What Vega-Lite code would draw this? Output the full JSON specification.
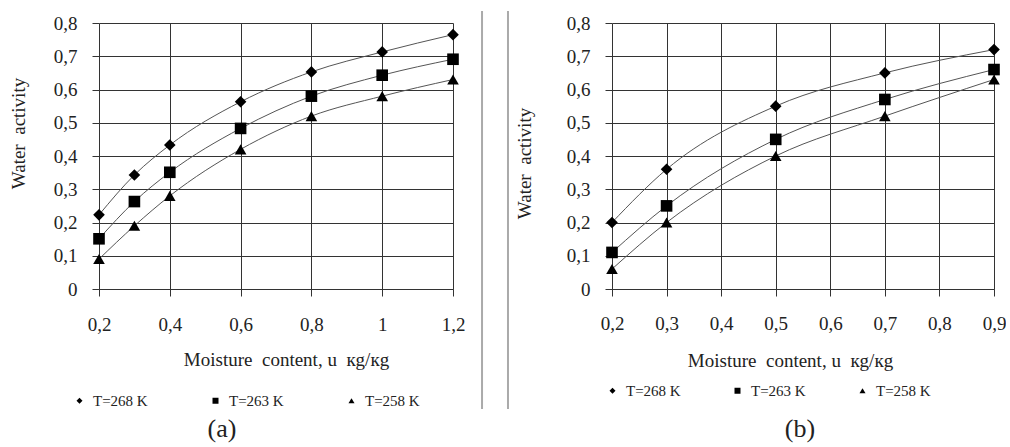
{
  "$schema": "https://vega.github.io/schema/vega-lite/v6.json",
  "padding": {"left": 9, "top": 10, "right": 0, "bottom": 0},
  "background": "white",
  "config": {
    "view": {"stroke": null},
    "font": "Liberation Serif",
    "axis": {"labelFont": "Liberation Serif", "titleFont": "Liberation Serif"},
    "legend": {
      "title": null, "symbolSize": 36, "symbolFillColor": "#000", "symbolStrokeColor": "#000", "symbolStrokeWidth": 0,
      "labelFont": "Liberation Serif", "labelFontSize": 15, "labelColor": "#222", "labelOffset": 6,
      "gridAlign": "all", "padding": 0
    }
  },
  "datasets": {
    "a": [
      {"series": "T=268 K", "x": 0.2, "y": 0.223}, {"series": "T=268 K", "x": 0.3, "y": 0.343}, {"series": "T=268 K", "x": 0.4, "y": 0.433}, {"series": "T=268 K", "x": 0.6, "y": 0.563}, {"series": "T=268 K", "x": 0.8, "y": 0.653}, {"series": "T=268 K", "x": 1.0, "y": 0.713}, {"series": "T=268 K", "x": 1.2, "y": 0.765},
      {"series": "T=263 K", "x": 0.2, "y": 0.151}, {"series": "T=263 K", "x": 0.3, "y": 0.263}, {"series": "T=263 K", "x": 0.4, "y": 0.351}, {"series": "T=263 K", "x": 0.6, "y": 0.483}, {"series": "T=263 K", "x": 0.8, "y": 0.58}, {"series": "T=263 K", "x": 1.0, "y": 0.643}, {"series": "T=263 K", "x": 1.2, "y": 0.691},
      {"series": "T=258 K", "x": 0.2, "y": 0.09}, {"series": "T=258 K", "x": 0.3, "y": 0.19}, {"series": "T=258 K", "x": 0.4, "y": 0.28}, {"series": "T=258 K", "x": 0.6, "y": 0.42}, {"series": "T=258 K", "x": 0.8, "y": 0.52}, {"series": "T=258 K", "x": 1.0, "y": 0.58}, {"series": "T=258 K", "x": 1.2, "y": 0.63}
    ],
    "b": [
      {"series": "T=268 K", "x": 0.2, "y": 0.2}, {"series": "T=268 K", "x": 0.3, "y": 0.36}, {"series": "T=268 K", "x": 0.5, "y": 0.55}, {"series": "T=268 K", "x": 0.7, "y": 0.65}, {"series": "T=268 K", "x": 0.9, "y": 0.72},
      {"series": "T=263 K", "x": 0.2, "y": 0.11}, {"series": "T=263 K", "x": 0.3, "y": 0.25}, {"series": "T=263 K", "x": 0.5, "y": 0.45}, {"series": "T=263 K", "x": 0.7, "y": 0.57}, {"series": "T=263 K", "x": 0.9, "y": 0.66},
      {"series": "T=258 K", "x": 0.2, "y": 0.06}, {"series": "T=258 K", "x": 0.3, "y": 0.2}, {"series": "T=258 K", "x": 0.5, "y": 0.4}, {"series": "T=258 K", "x": 0.7, "y": 0.52}, {"series": "T=258 K", "x": 0.9, "y": 0.63}
    ],
    "sepA": [{"x": 1.282, "y": 0.836, "y2": -0.361}],
    "sepB": [{"x": 0.0094, "y": 0.836, "y2": -0.361}]
  },
  "spacing": 22,
  "resolve": {
    "scale": {"x": "independent", "y": "independent", "shape": "independent"},
    "legend": {"shape": "independent"}
  },
  "hconcat": [
    {
      "width": 354,
      "height": 266,
      "title": {"text": "(a)", "orient": "bottom", "anchor": "middle", "frame": "group", "dx": -54, "offset": 6, "fontSize": 26, "font": "Liberation Serif", "fontWeight": "normal", "color": "#222"},
      "encoding": {
        "x": {
          "field": "x", "type": "quantitative",
          "scale": {"domain": [0.2, 1.2], "nice": false, "zero": false},
          "axis": {
            "values": [0.2, 0.4, 0.6, 0.8, 1, 1.2],
            "title": "Moisture\u00a0 content, u\u00a0 кg/кg",
            "labelExpr": "replace(format(datum.value, '.1~f'), '.', ',')",
            "grid": true, "gridColor": "#333", "gridOpacity": 1, "gridWidth": 1,
            "domainColor": "#333", "tickColor": "#333", "tickSize": 7,
            "labelPadding": 19, "labelFont": "Liberation Serif", "labelFontSize": 19, "labelColor": "#222",
            "labelFlush": false, "labelOverlap": false,
            "titleFont": "Liberation Serif", "titleFontSize": 19, "titleFontWeight": "normal", "titleColor": "#222",
            "titleX": 187, "titleY": 76, "titleBaseline": "alphabetic", "titleAlign": "center"
          }
        },
        "y": {
          "field": "y", "type": "quantitative",
          "scale": {"domain": [0, 0.8], "nice": false, "zero": false},
          "axis": {
            "values": [0, 0.1, 0.2, 0.3, 0.4, 0.5, 0.6, 0.7, 0.8],
            "title": "Water\u00a0 activity",
            "labelExpr": "replace(format(datum.value, '.1~f'), '.', ',')",
            "grid": true, "gridColor": "#333", "gridOpacity": 1, "gridWidth": 1,
            "domain": false, "tickColor": "#333", "tickSize": 7,
            "labelPadding": 15, "labelFont": "Liberation Serif", "labelFontSize": 19, "labelColor": "#222",
            "labelFlush": false, "labelOverlap": false,
            "titleFont": "Liberation Serif", "titleFontSize": 19, "titleFontWeight": "normal", "titleColor": "#222",
            "titleX": -75, "titleY": 110, "titleBaseline": "alphabetic", "titleAlign": "center", "titleAngle": 270
          }
        }
      },
      "layer": [
        {
          "data": {"name": "sepA"},
          "mark": {"type": "rule", "color": "#aaa", "strokeWidth": 2},
          "encoding": {"y2": {"field": "y2"}}
        },
        {
          "data": {"name": "a"},
          "mark": {"type": "line", "interpolate": "monotone", "color": "#555", "strokeWidth": 1},
          "encoding": {"detail": {"field": "series"}}
        },
        {
          "data": {"name": "a"},
          "mark": {"type": "point", "filled": true, "color": "#000", "opacity": 1, "size": 135},
          "encoding": {
            "shape": {
              "field": "series", "type": "nominal",
              "scale": {"domain": ["T=268 K", "T=263 K", "T=258 K"], "range": ["diamond", "square", "triangle-up"]},
              "legend": {
                "orient": "none", "legendX": -27, "legendY": 370, "direction": "horizontal", "columns": 3,
                "columnPadding": 60
              }
            }
          }
        }
      ]
    },
    {
      "width": 382,
      "height": 266,
      "title": {"text": "(b)", "orient": "bottom", "anchor": "middle", "frame": "group", "dx": -3, "offset": 6, "fontSize": 26, "font": "Liberation Serif", "fontWeight": "normal", "color": "#222"},
      "encoding": {
        "x": {
          "field": "x", "type": "quantitative",
          "scale": {"domain": [0.2, 0.9], "nice": false, "zero": false},
          "axis": {
            "values": [0.2, 0.3, 0.4, 0.5, 0.6, 0.7, 0.8, 0.9],
            "title": "Moisture\u00a0 content, u\u00a0 кg/кg",
            "labelExpr": "replace(format(datum.value, '.1~f'), '.', ',')",
            "grid": true, "gridColor": "#333", "gridOpacity": 1, "gridWidth": 1,
            "domainColor": "#333", "tickColor": "#333", "tickSize": 7,
            "labelPadding": 18, "labelFont": "Liberation Serif", "labelFontSize": 19, "labelColor": "#222",
            "labelFlush": false, "labelOverlap": false,
            "titleFont": "Liberation Serif", "titleFontSize": 19, "titleFontWeight": "normal", "titleColor": "#222",
            "titleX": 178, "titleY": 77, "titleBaseline": "alphabetic", "titleAlign": "center"
          }
        },
        "y": {
          "field": "y", "type": "quantitative",
          "scale": {"domain": [0, 0.8], "nice": false, "zero": false},
          "axis": {
            "values": [0, 0.1, 0.2, 0.3, 0.4, 0.5, 0.6, 0.7, 0.8],
            "title": "Water\u00a0 activity",
            "labelExpr": "replace(format(datum.value, '.1~f'), '.', ',')",
            "grid": true, "gridColor": "#333", "gridOpacity": 1, "gridWidth": 1,
            "domain": false, "tickColor": "#333", "tickSize": 7,
            "labelPadding": 15, "labelFont": "Liberation Serif", "labelFontSize": 19, "labelColor": "#222",
            "labelFlush": false, "labelOverlap": false,
            "titleFont": "Liberation Serif", "titleFontSize": 19, "titleFontWeight": "normal", "titleColor": "#222",
            "titleX": -82, "titleY": 140, "titleBaseline": "alphabetic", "titleAlign": "center", "titleAngle": 270
          }
        }
      },
      "layer": [
        {
          "data": {"name": "sepB"},
          "mark": {"type": "rule", "color": "#aaa", "strokeWidth": 2},
          "encoding": {"y2": {"field": "y2"}}
        },
        {
          "data": {"name": "b"},
          "mark": {"type": "line", "interpolate": "monotone", "color": "#555", "strokeWidth": 1},
          "encoding": {"detail": {"field": "series"}}
        },
        {
          "data": {"name": "b"},
          "mark": {"type": "point", "filled": true, "color": "#000", "opacity": 1, "size": 135},
          "encoding": {
            "shape": {
              "field": "series", "type": "nominal",
              "scale": {"domain": ["T=268 K", "T=263 K", "T=258 K"], "range": ["diamond", "square", "triangle-up"]},
              "legend": {
                "orient": "none", "legendX": -7, "legendY": 360, "direction": "horizontal", "columns": 3,
                "columnPadding": 49
              }
            }
          }
        }
      ]
    }
  ]
}
